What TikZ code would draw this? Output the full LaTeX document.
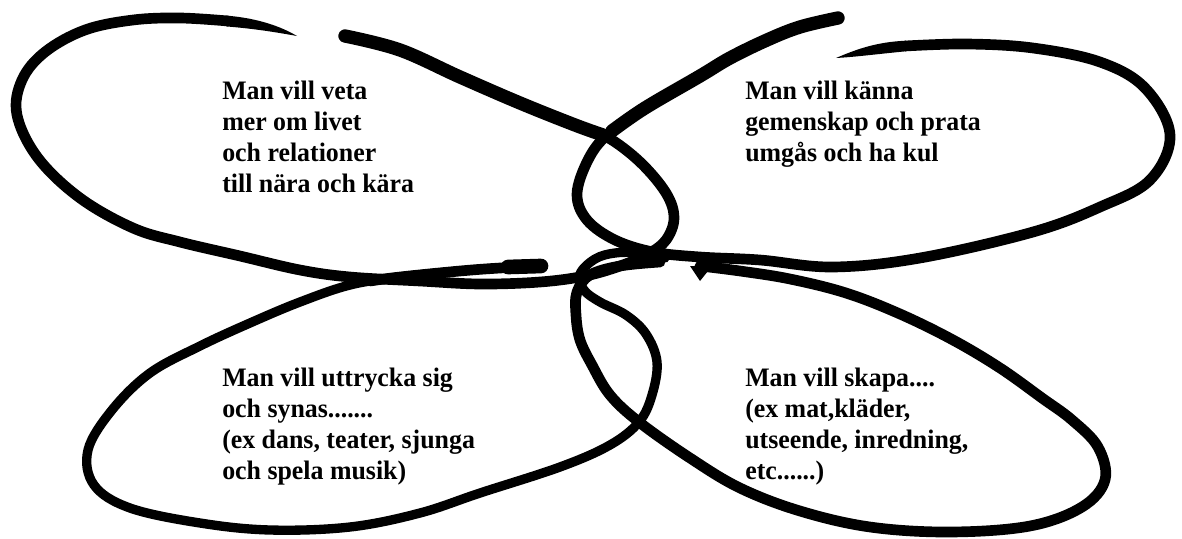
\documentclass[tikz,border=0pt]{standalone}
\usepackage{fontspec}
\setmainfont{Liberation Serif}[FakeStretch=0.97]
\begin{document}
\begin{tikzpicture}[x=0.75pt,y=-0.75pt,
  brush/.style={line width=8pt,line cap=round,line join=round},
  midbrush/.style={line width=7pt,line cap=round,line join=round},
  heavy/.style={line width=10pt,line cap=round,line join=round},
  lbl/.style={anchor=north west,inner sep=0pt,align=left,font=\fontsize{20pt}{23.1pt}\selectfont\bfseries}]
\useasboundingbox[fill=white] (0,0) rectangle (1182,539);

% texts
\node[lbl] (tl) at (222,81) {Man vill veta\\mer om livet\\och relationer\\till nära och kära};
\node[lbl] (tr) at (745,81) {Man vill känna\\gemenskap och prata\\umgås och ha kul};
\node[lbl] (bl) at (222,368) {Man vill uttrycka sig\\och synas.......\\(ex dans, teater, sjunga\\och spela musik)};
\node[lbl] (br) at (745,368) {Man vill skapa....\\(ex mat,kläder,\\utseende, inredning,\\etc......)};

% stroke 1: top-left loop
\draw[brush] plot[smooth,tension=0.6] coordinates {(345,36) (400,50) (460,77) (520,103) (575,125) (607,137) (640,162) (666,193) (674,218) (666,240) (648,254) (620,266) (585,276) (540,282) (480,284) (420,281) (350,277) (300,270) (240,256) (180,242) (133,228) (80,198) (38,158) (17,115) (22,80) (45,52) (85,30) (133,20) (180,18) (228,21)};
\draw[heavy] plot[smooth,tension=0.6] coordinates {(345,36) (400,50) (460,77) (520,103) (575,125) (603,135)};
\fill (226,15.6) .. controls (258,18) and (282,27) .. (297,36) .. controls (280,33) and (258,29) .. (226,26.4) -- cycle;

% stroke 2: top-right loop
\draw[brush] plot[smooth,tension=0.6] coordinates {(838,18) (800,27) (767,40) (730,58) (700,76) (645,108) (607,135) (588,160) (577,194) (587,220) (615,240) (653,252) (700,257) (760,260) (833,267) (920,258) (1033,232) (1100,207) (1150,180) (1170,135) (1145,88) (1100,62) (1033,48) (967,44) (905,46)};
\draw[heavy] plot[smooth,tension=0.6] coordinates {(838,18) (800,27) (767,40) (730,58) (700,76) (645,108) (612,131)};
\fill (906,40.7) .. controls (875,42) and (855,50) .. (836,58) .. controls (855,57) and (878,54) .. (906,51.3) -- cycle;

% stroke 3: bottom-left loop
\draw[midbrush] plot[smooth,tension=0.6] coordinates {(541,266) (500,268) (460,271) (400,277) (350,285) (300,302) (250,323) (200,346) (150,373) (112,410) (88,450) (94,485) (130,508) (200,523) (270,530) (350,527) (420,513) (480,493) (560,467) (610,445) (639,422) (652,395) (657,362) (646,334) (626,315) (600,302) (584,290) (580,274) (595,259) (615,253) (640,253) (665,258)};
\draw[brush] plot[smooth,tension=0.6] coordinates {(541,266) (500,268) (460,271) (400,277) (370,281)};
\draw[line width=11pt,line cap=round] (541,266) -- (508,267);

% stroke 4: bottom-right loop
\draw[brush] plot[smooth,tension=0.6] coordinates {(660,262) (620,266) (590,275) (577,292) (576,315) (580,340) (592,365) (610,395) (639,422) (690,458) (740,488) (800,511) (870,527) (950,532) (1030,526) (1082,507) (1105,480) (1098,447) (1072,420) (1042,398) (1000,368) (953,340) (900,314) (846,293) (790,279) (740,271) (700,266)};
\fill (690,266) -- (712,266) -- (700,281) -- cycle;
\end{tikzpicture}
\end{document}
